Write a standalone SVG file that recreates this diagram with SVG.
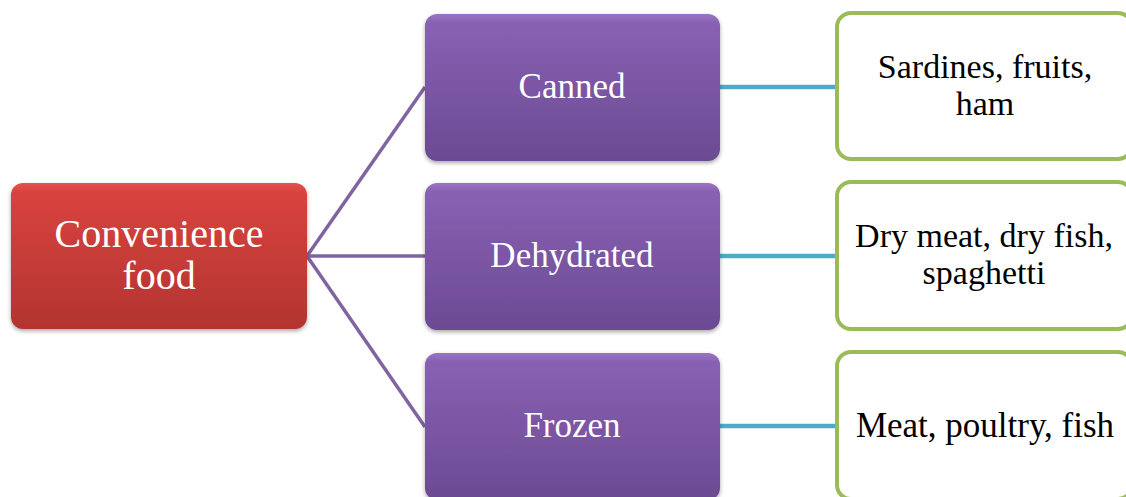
<svg xmlns="http://www.w3.org/2000/svg" width="1126" height="497" viewBox="0 0 1126 497">
<style>
.lbl{font-family:'Liberation Serif','Times New Roman',Tinos,'DejaVu Serif',serif;text-anchor:middle}
.w{fill:#ffffff}
.k{fill:#000000}
.lv{fill:url(#gPurple);filter:url(#sh)}
.leaf{fill:#ffffff;stroke:#9BBB59;stroke-width:4}
.c1{stroke:#8064A2;stroke-width:3.5;fill:none}
.c2{stroke:#4BACC6;stroke-width:4.5;fill:none}
</style>
<defs>
<linearGradient id="gPurple" x1="0" y1="0" x2="0" y2="1">
<stop offset="0" stop-color="#9A74C4"/>
<stop offset="0.06" stop-color="#8861B3"/>
<stop offset="1" stop-color="#6C4A93"/>
</linearGradient>
<linearGradient id="gRed" x1="0" y1="0" x2="0" y2="1">
<stop offset="0" stop-color="#E2534D"/>
<stop offset="0.06" stop-color="#D9433E"/>
<stop offset="1" stop-color="#B23431"/>
</linearGradient>
<filter id="sh" x="-5%" y="-5%" width="110%" height="115%">
<feDropShadow dx="0" dy="2" stdDeviation="2" flood-color="#000" flood-opacity="0.35"/>
</filter>
</defs>
<g id="connectors">
<line class="c1" x1="307" y1="256" x2="425" y2="87"/>
<line class="c1" x1="307" y1="256" x2="425" y2="256"/>
<line class="c1" x1="307" y1="256" x2="425" y2="427"/>
<line class="c2" x1="720" y1="87" x2="836" y2="87"/>
<line class="c2" x1="720" y1="256" x2="836" y2="256"/>
<line class="c2" x1="720" y1="426" x2="836" y2="426"/>
</g>
<g id="root">
<rect x="11" y="183" width="296" height="146" rx="12" fill="url(#gRed)" filter="url(#sh)"/>
<text class="lbl w" x="159" y="247" font-size="40">Convenience</text>
<text class="lbl w" x="159" y="289" font-size="40">food</text>
</g>
<g id="canned">
<rect class="lv" x="425" y="14" width="295" height="147" rx="12"/>
<text class="lbl w" x="572" y="98" font-size="35">Canned</text>
</g>
<g id="dehydrated">
<rect class="lv" x="425" y="183" width="295" height="147" rx="12"/>
<text class="lbl w" x="572" y="267" font-size="35">Dehydrated</text>
</g>
<g id="frozen">
<rect class="lv" x="425" y="353" width="295" height="147" rx="12"/>
<text class="lbl w" x="572" y="437" font-size="35">Frozen</text>
</g>
<g id="leaf-canned">
<rect class="leaf" x="837" y="13" width="295" height="146" rx="14"/>
<text class="lbl k" x="985" y="78" font-size="34">Sardines, fruits,</text>
<text class="lbl k" x="985" y="115" font-size="34">ham</text>
</g>
<g id="leaf-dehydrated">
<rect class="leaf" x="837" y="182" width="295" height="147" rx="14"/>
<text class="lbl k" x="984" y="247" font-size="34">Dry meat, dry fish,</text>
<text class="lbl k" x="984" y="284" font-size="34">spaghetti</text>
</g>
<g id="leaf-frozen">
<rect class="leaf" x="837" y="352" width="295" height="147" rx="14"/>
<text class="lbl k" x="985" y="437" font-size="35">Meat, poultry, fish</text>
</g>
</svg>
